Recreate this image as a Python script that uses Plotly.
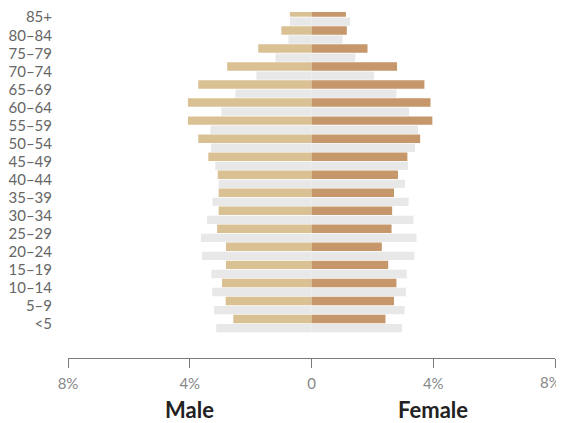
import plotly.graph_objects as go

age_groups = ["<5", "5–9", "10–14", "15–19", "20–24", "25–29", "30–34", "35–39",
              "40–44", "45–49", "50–54", "55–59", "60–64", "65–69", "70–74",
              "75–79", "80–84", "85+"]

# percent of population (current year, coloured bars)
male_now = [2.57, 2.82, 2.94, 2.81, 2.81, 3.10, 3.05, 3.05, 3.08, 3.39, 3.72,
            4.06, 4.06, 3.72, 2.77, 1.75, 0.99, 0.71]
female_now = [2.43, 2.71, 2.79, 2.52, 2.31, 2.63, 2.65, 2.71, 2.84, 3.15, 3.57,
              3.97, 3.91, 3.71, 2.81, 1.84, 1.16, 1.13]
# comparison year (grey bars)
male_then = [3.13, 3.20, 3.26, 3.29, 3.60, 3.63, 3.43, 3.25, 3.05, 3.16, 3.30,
             3.32, 2.96, 2.50, 1.81, 1.18, 0.76, 0.71]
female_then = [2.97, 3.06, 3.10, 3.13, 3.38, 3.45, 3.35, 3.19, 3.07, 3.17, 3.40,
               3.50, 3.21, 2.79, 2.06, 1.44, 1.02, 1.27]

x_tickvals = [-8, -4, 0, 4, 8]
x_ticktext = ["8%", "4%", "0", "4%", "8%"]

TAN = "#D9C194"
BROWN = "#C5976A"
GREY = "#E8E8E8"

ypos = list(range(len(age_groups)))

fig = go.Figure()
fig.add_trace(go.Bar(y=ypos, x=[-v for v in male_then], orientation="h",
                     marker=dict(color=GREY, line=dict(width=0)),
                     offset=-0.47, width=0.46, hoverinfo="skip", showlegend=False))
fig.add_trace(go.Bar(y=ypos, x=female_then, orientation="h",
                     marker=dict(color=GREY, line=dict(width=0)),
                     offset=-0.47, width=0.46, hoverinfo="skip", showlegend=False))
fig.add_trace(go.Bar(y=ypos, x=[-v for v in male_now], orientation="h",
                     marker=dict(color=TAN, line=dict(width=0)),
                     offset=0.03, width=0.47, showlegend=False))
fig.add_trace(go.Bar(y=ypos, x=female_now, orientation="h",
                     marker=dict(color=BROWN, line=dict(width=0)),
                     offset=0.03, width=0.47, showlegend=False))

# last tick label is pulled inside the page edge, as in the reference
shown_ticktext = x_ticktext[:-1] + [""]

fig.update_layout(
    width=556, height=415,
    margin=dict(l=59, r=9, t=0, b=65),
    barmode="overlay",
    plot_bgcolor="white", paper_bgcolor="white",
    font=dict(family="Lato, sans-serif"),
    xaxis=dict(range=[-8, 8], tickvals=x_tickvals, ticktext=shown_ticktext,
               showgrid=False, zeroline=False, showline=True,
               linecolor="#7a7a7a", linewidth=1.3,
               ticks="outside", ticklen=9, tickcolor="#7a7a7a", tickwidth=1.3,
               ticklabelstandoff=3, ticklabeloverflow="allow",
               tickfont=dict(size=15, color="#888888")),
    yaxis=dict(range=[-1.90, 17.29], tickvals=ypos, ticktext=age_groups,
               showgrid=False, zeroline=False, showline=False, ticks="",
               ticklabelstandoff=15, ticklabeloverflow="allow",
               tickfont=dict(size=15, color="#666666")),
    annotations=[
        dict(text=x_ticktext[-1], x=1.0164, y=-0.0686, xref="paper", yref="paper",
             showarrow=False, xanchor="right", yanchor="middle",
             font=dict(size=15, color="#888888")),
        dict(text="<b>Male</b>", x=-4, y=-0.149, xref="x", yref="paper",
             showarrow=False, xanchor="center", yanchor="middle",
             font=dict(size=22, color="#222222")),
        dict(text="<b>Female</b>", x=4, y=-0.149, xref="x", yref="paper",
             showarrow=False, xanchor="center", yanchor="middle",
             font=dict(size=22, color="#222222")),
    ],
)

fig.write_html("out.html")
